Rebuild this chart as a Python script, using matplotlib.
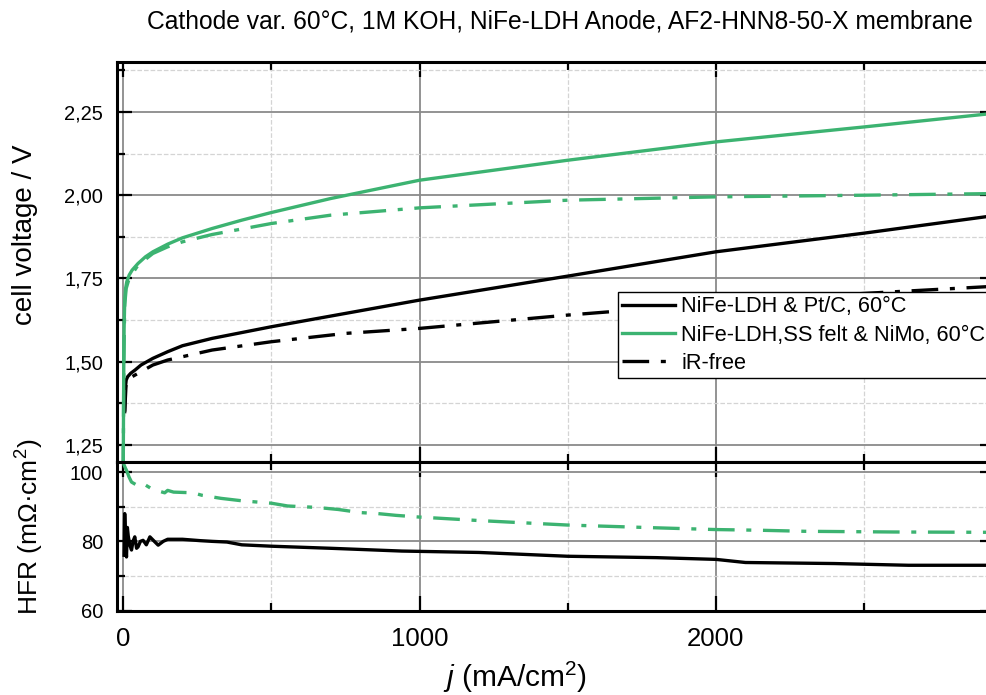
import matplotlib
matplotlib.use("Agg")
import matplotlib.pyplot as plt
from matplotlib.lines import Line2D
from matplotlib.ticker import FixedLocator, MultipleLocator, FuncFormatter

plt.rcParams['font.family'] = ['Liberation Sans', 'DejaVu Sans']
plt.rcParams['mathtext.fontset'] = 'custom'
plt.rcParams['mathtext.rm'] = 'Liberation Sans'
plt.rcParams['mathtext.it'] = 'Liberation Sans:italic'

GREEN = '#3cb371'

# cell voltage, NiFe-LDH & Pt/C
j_pt = [5, 7, 10, 15, 25, 40, 60, 100, 150, 200, 300, 500, 750, 1000, 1500, 2000, 2500, 2950]
v_pt = [1.35, 1.42, 1.445, 1.455, 1.465, 1.475, 1.49, 1.51, 1.53, 1.548, 1.57, 1.605,
        1.645, 1.685, 1.757, 1.83, 1.886, 1.94]
j_pt_ir = [5, 10, 20, 40, 70, 100, 150, 200, 300, 500, 750, 1000, 1500, 2000, 2500, 2950]
v_pt_ir = [1.35, 1.44, 1.45, 1.46, 1.475, 1.49, 1.505, 1.515, 1.535, 1.56, 1.585, 1.60,
           1.64, 1.675, 1.705, 1.727]

# cell voltage, NiFe-LDH, SS felt & NiMo
j_nimo = [0, 1, 2, 3, 5, 8, 12, 20, 30, 50, 75, 100, 150, 200, 300, 400, 500, 700,
          1000, 1500, 2000, 2500, 2950]
v_nimo = [1.17, 1.35, 1.5, 1.6, 1.68, 1.72, 1.74, 1.76, 1.775, 1.795, 1.815, 1.83, 1.853,
          1.872, 1.9, 1.925, 1.948, 1.99, 2.045, 2.105, 2.16, 2.205, 2.247]
j_nimo_ir = [0, 2, 5, 10, 20, 50, 100, 150, 200, 300, 500, 700, 1000, 1500, 2000, 2500, 2950]
v_nimo_ir = [1.17, 1.5, 1.67, 1.72, 1.75, 1.79, 1.825, 1.845, 1.86, 1.882, 1.915, 1.94,
             1.962, 1.985, 1.995, 2.0, 2.005]

# HFR
j_hfr_pt = [3, 5, 8, 11, 14, 17, 22, 28, 33, 39, 45, 50, 58, 67, 78, 90, 105, 118, 135, 150,
            200, 260, 300, 350, 400, 500, 700, 940, 1200, 1500, 1800, 2000, 2100, 2400,
            2650, 2950]
hfr_pt = [76, 88, 80, 75.5, 84, 81.5, 79, 77.5, 80, 81.3, 78, 78.4, 80, 80.3, 79, 81.3, 80,
          78.9, 80, 80.6, 80.6, 80.2, 80.0, 79.8, 79.0, 78.6, 78.0, 77.2, 76.8, 75.7, 75.3,
          74.8, 73.9, 73.6, 73.1, 73.1]
j_hfr_nimo = [0, 3, 8, 11, 20, 28, 40, 56, 74, 95, 120, 140, 150, 170, 236, 265, 330, 400,
              500, 555, 650, 725, 800, 860, 920, 1000, 1200, 1500, 1800, 2000, 2150, 2300,
              2600, 2950]
hfr_nimo = [103, 102, 101, 100.5, 98.5, 97.1, 96.5, 95.7, 96.3, 95.2, 94.5, 94.0, 94.7,
            94.2, 94.0, 93.3, 92.4, 91.7, 91.0, 90.2, 89.8, 89.2, 88.3, 88.0, 87.5, 87.0,
            86.0, 84.7, 83.9, 83.4, 83.2, 82.9, 82.7, 82.6]

legend_labels = ['NiFe-LDH & Pt/C, 60°C', 'NiFe-LDH,SS felt & NiMo, 60°C', 'iR-free']
title = 'Cathode var. 60°C, 1M KOH, NiFe-LDH Anode, AF2-HNN8-50-X membrane'

W, H = 986, 695
fig = plt.figure(figsize=(W / 100, H / 100), dpi=100)
x0, x1 = 117, 995
ax = fig.add_axes([x0 / W, 1 - 461.6 / H, (x1 - x0) / W, 399.6 / H])
ax2 = fig.add_axes([x0 / W, 1 - 610.7 / H, (x1 - x0) / W, 149.1 / H], sharex=ax)

lw = 2.4
dd = (8, 3.5, 1.5, 3.5)

ax.plot(j_pt, v_pt, color='black', lw=lw)
ax.plot(j_pt_ir, v_pt_ir, color='black', lw=lw, dashes=dd)
ax.plot(j_nimo, v_nimo, color=GREEN, lw=lw, clip_on=False)
ax.plot(j_nimo_ir, v_nimo_ir, color=GREEN, lw=lw, dashes=dd)

ax2.plot(j_hfr_pt, hfr_pt, color='black', lw=lw)
ax2.plot(j_hfr_nimo, hfr_nimo, color=GREEN, lw=lw, dashes=dd)

ax.set_xlim(-21, 2942)
ax.set_ylim(1.2, 2.4)
ax2.set_ylim(60, 103)

ax.yaxis.set_major_locator(FixedLocator([1.25, 1.5, 1.75, 2.0, 2.25]))
ax.yaxis.set_minor_locator(MultipleLocator(0.125))
ax.yaxis.set_major_formatter(FuncFormatter(lambda v, p: f'{v:.2f}'.replace('.', ',')))
ax2.yaxis.set_major_locator(FixedLocator([60, 80, 100]))
ax2.yaxis.set_minor_locator(MultipleLocator(10))
ax2.xaxis.set_major_locator(FixedLocator([0, 1000, 2000]))
ax2.xaxis.set_minor_locator(MultipleLocator(500))

for a in (ax, ax2):
    a.set_axisbelow(True)
    a.grid(which='major', color='#8a8a8a', lw=1.3, ls='-')
    a.grid(which='minor', color='#d4d4d4', lw=0.9, ls='--')
    a.tick_params(which='both', direction='in', top=True, right=True, width=1.6)
    a.tick_params(which='major', length=11)
    a.tick_params(which='minor', length=5.5)
    a.tick_params(axis='y', labelsize=14.5, pad=10)
    for s in a.spines.values():
        s.set_linewidth(2.2)

ax.tick_params(axis='x', labelbottom=False)
ax2.tick_params(axis='x', labelsize=18.5, pad=12)

fig.text(559.5 / W, 1 - 22 / H, title, ha='center', va='center', fontsize=17.7)
fig.text(25 / W, 1 - 235 / H, 'cell voltage / V', rotation=90, ha='center', va='center',
         fontsize=20)
fig.text(30 / W, 1 - 527 / H, 'HFR (mΩ·cm$^2$)', rotation=90, ha='center', va='center',
         fontsize=19)
fig.text(515 / W, 1 - 677 / H, '$j$ (mA/cm$^2$)', ha='center', va='center', fontsize=21.5)

handles = [Line2D([], [], color='black', lw=lw),
           Line2D([], [], color=GREEN, lw=lw),
           Line2D([], [], color='black', lw=lw, dashes=dd)]
leg = ax.legend(handles, legend_labels, loc='upper left',
                bbox_to_anchor=((618 - x0) / (x1 - x0), (461.6 - 292) / 399.6),
                borderaxespad=0, fontsize=15.7, frameon=True, fancybox=False,
                edgecolor='black', framealpha=1, handlelength=2.4, handletextpad=0.3,
                labelspacing=0.33, borderpad=0.2)
leg.get_frame().set_linewidth(1.0)

fig.savefig('out.png', dpi=100)
